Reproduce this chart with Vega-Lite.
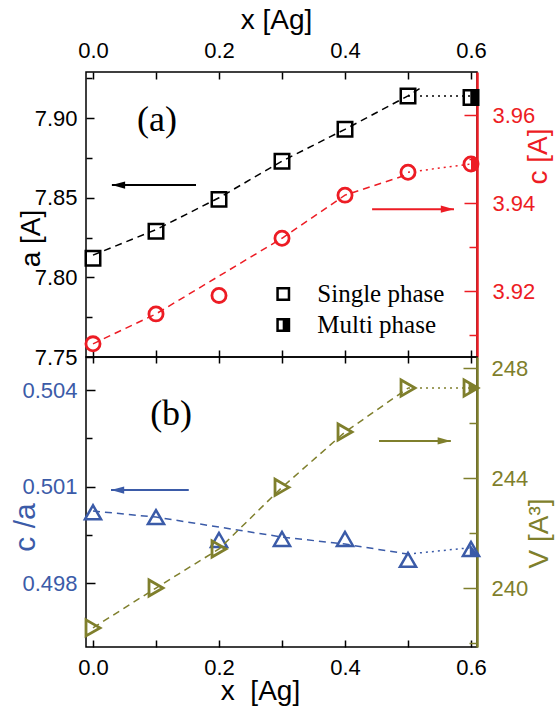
{
  "$schema": "https://vega.github.io/schema/vega-lite/v6.json",
  "padding": {"left": 9, "top": 5, "right": 5, "bottom": 0},
  "spacing": 0,
  "bounds": "flush",
  "config": {
    "view": {"stroke": "black", "strokeWidth": 1.5},
    "axis": {
      "grid": false, "domain": false,
      "labelFont": "Liberation Sans", "labelFontSize": 22, "labelColor": "black",
      "titleFont": "Liberation Sans", "titleFontSize": 28, "titleFontWeight": "normal", "titleColor": "black",
      "tickWidth": 1.5, "tickColor": "black"
    }
  },
  "datasets": {
    "pts": [
      {"q": "a", "x": 0.0, "v": 7.812, "phase": "Single"},
      {"q": "a", "x": 0.1, "v": 7.829, "phase": "Single"},
      {"q": "a", "x": 0.2, "v": 7.849, "phase": "Single"},
      {"q": "a", "x": 0.3, "v": 7.873, "phase": "Single"},
      {"q": "a", "x": 0.4, "v": 7.893, "phase": "Single"},
      {"q": "a", "x": 0.5, "v": 7.914, "phase": "Single"},
      {"q": "a", "x": 0.6, "v": 7.913, "phase": "Multi"},
      {"q": "c", "x": 0.0, "v": 3.908, "phase": "Single"},
      {"q": "c", "x": 0.1, "v": 3.9148, "phase": "Single"},
      {"q": "c", "x": 0.2, "v": 3.919, "phase": "Single"},
      {"q": "c", "x": 0.3, "v": 3.932, "phase": "Single"},
      {"q": "c", "x": 0.4, "v": 3.9418, "phase": "Single"},
      {"q": "c", "x": 0.5, "v": 3.947, "phase": "Single"},
      {"q": "c", "x": 0.6, "v": 3.9489, "phase": "Multi"},
      {"q": "ca", "x": 0.0, "v": 0.5002, "phase": "Single"},
      {"q": "ca", "x": 0.1, "v": 0.50005, "phase": "Single"},
      {"q": "ca", "x": 0.2, "v": 0.49934, "phase": "Single"},
      {"q": "ca", "x": 0.3, "v": 0.49937, "phase": "Single"},
      {"q": "ca", "x": 0.4, "v": 0.49937, "phase": "Single"},
      {"q": "ca", "x": 0.5, "v": 0.49872, "phase": "Single"},
      {"q": "ca", "x": 0.6, "v": 0.49906, "phase": "Multi"},
      {"q": "V", "x": 0.0, "v": 238.55, "phase": "Single"},
      {"q": "V", "x": 0.1, "v": 240.0, "phase": "Single"},
      {"q": "V", "x": 0.2, "v": 241.42, "phase": "Single"},
      {"q": "V", "x": 0.3, "v": 243.66, "phase": "Single"},
      {"q": "V", "x": 0.4, "v": 245.67, "phase": "Single"},
      {"q": "V", "x": 0.5, "v": 247.27, "phase": "Single"},
      {"q": "V", "x": 0.6, "v": 247.27, "phase": "Multi"}
    ],
    "lines": [
      {"q": "a", "style": "dash", "x": 0.0, "v": 7.814},
      {"q": "a", "style": "dash", "x": 0.1, "v": 7.830},
      {"q": "a", "style": "dash", "x": 0.2, "v": 7.850},
      {"q": "a", "style": "dash", "x": 0.3, "v": 7.873},
      {"q": "a", "style": "dash", "x": 0.4, "v": 7.893},
      {"q": "a", "style": "dash", "x": 0.5, "v": 7.914},
      {"q": "a", "style": "dash", "x": 0.52, "v": 7.919},
      {"q": "a", "style": "dot", "x": 0.5, "v": 7.914},
      {"q": "a", "style": "dot", "x": 0.6, "v": 7.914},
      {"q": "c", "style": "dash", "x": 0.0, "v": 3.908},
      {"q": "c", "style": "dash", "x": 0.1, "v": 3.9148},
      {"q": "c", "style": "dash", "x": 0.3, "v": 3.932},
      {"q": "c", "style": "dash", "x": 0.4, "v": 3.9418},
      {"q": "c", "style": "dash", "x": 0.5, "v": 3.9465},
      {"q": "c", "style": "dot", "x": 0.5, "v": 3.947},
      {"q": "c", "style": "dot", "x": 0.6, "v": 3.9489},
      {"q": "ca", "style": "dash", "x": 0.0, "v": 0.50024},
      {"q": "ca", "style": "dash", "x": 0.1, "v": 0.50005},
      {"q": "ca", "style": "dash", "x": 0.3, "v": 0.49943},
      {"q": "ca", "style": "dash", "x": 0.4, "v": 0.49921},
      {"q": "ca", "style": "dash", "x": 0.5, "v": 0.4989},
      {"q": "ca", "style": "dot", "x": 0.5, "v": 0.4989},
      {"q": "ca", "style": "dot", "x": 0.6, "v": 0.4991},
      {"q": "V", "style": "dash", "x": 0.0, "v": 238.55},
      {"q": "V", "style": "dash", "x": 0.1, "v": 240.0},
      {"q": "V", "style": "dash", "x": 0.2, "v": 241.42},
      {"q": "V", "style": "dash", "x": 0.3, "v": 243.66},
      {"q": "V", "style": "dash", "x": 0.4, "v": 245.67},
      {"q": "V", "style": "dash", "x": 0.5, "v": 247.27},
      {"q": "V", "style": "dot", "x": 0.5, "v": 247.27},
      {"q": "V", "style": "dot", "x": 0.6, "v": 247.27}
    ],
    "arrows": [
      {"q": "a", "x": 0.1635, "xe": 0.03, "v": 7.858},
      {"q": "c", "x": 0.443, "xe": 0.573, "v": 3.9386},
      {"q": "ca", "x": 0.152, "xe": 0.0286, "v": 0.50089},
      {"q": "V", "x": 0.454, "xe": 0.568, "v": 245.35}
    ],
    "notes": [
      {"q": "a", "kind": "panel", "label": "(a)", "x": 0.1016, "v": 7.899},
      {"q": "ca", "kind": "panel", "label": "(b)", "x": 0.124, "v": 0.50325},
      {"q": "a", "kind": "legend", "label": "Single phase", "x": 0.356, "sx": 0.302, "v": 7.7896, "phase": "Single"},
      {"q": "a", "kind": "legend", "label": "Multi phase", "x": 0.356, "sx": 0.302, "v": 7.7701, "phase": "Multi"}
    ]
  },
  "vconcat": [
    {
      "width": 391,
      "height": 285,
      "resolve": {"scale": {"y": "independent"}, "axis": {"x": "independent", "y": "independent"}},
      "layer": [
        {
          "data": {"name": "lines"},
          "transform": [{"filter": "datum.q == 'a' && datum.style == 'dash'"}],
          "mark": {"type": "line", "color": "black", "strokeWidth": 1.5, "strokeDash": [7, 5]},
          "encoding": {
            "x": {"field": "x", "type": "quantitative", "scale": {"domain": [-0.0111, 0.6095], "nice": false, "zero": false},
              "axis": {"orient": "top", "title": "x [Ag]", "values": [0, 0.1, 0.2, 0.3, 0.4, 0.5, 0.6],
                "labelExpr": "round(datum.value*10) % 2 == 0 ? format(datum.value, '.1f') : ''",
                "tickSize": -7, "labelPadding": 17, "titleX": 190, "titleY": -52, "titleBaseline": "middle", "titleAlign": "center"}},
            "y": {"field": "v", "type": "quantitative", "scale": {"domain": [7.75, 7.929], "nice": false, "zero": false},
              "axis": {"orient": "left", "title": "a [A]", "values": [7.75, 7.775, 7.8, 7.825, 7.85, 7.875, 7.9, 7.925],
                "labelExpr": "round(datum.value*1000) % 50 == 0 ? format(datum.value, '.2f') : ''",
                "tickSize": {"condition": {"test": "round(datum.value*1000) % 50 == 0", "value": -8}, "value": -6},
                "labelPadding": 17, "titleX": -55, "titleY": 166, "titleAngle": -90, "titleAlign": "center", "titleBaseline": "middle"}}
          }
        },
        {
          "data": {"name": "lines"},
          "transform": [{"filter": "datum.q == 'a' && datum.style == 'dot'"}],
          "mark": {"type": "line", "color": "black", "strokeWidth": 1.5, "strokeDash": [2, 4]},
          "encoding": {
            "x": {"field": "x", "type": "quantitative", "scale": {"domain": [-0.0111, 0.6095], "nice": false, "zero": false}, "axis": null},
            "y": {"field": "v", "type": "quantitative", "scale": {"domain": [7.75, 7.929], "nice": false, "zero": false}, "axis": null}
          }
        },
        {
          "data": {"name": "pts"},
          "transform": [{"filter": "datum.q == 'a'"}],
          "mark": {"type": "point", "shape": "square", "filled": false, "color": "black", "strokeWidth": 2.5, "size": 210, "opacity": 1},
          "encoding": {
            "x": {"field": "x", "type": "quantitative", "scale": {"domain": [-0.0111, 0.6095], "nice": false, "zero": false}, "axis": null},
            "y": {"field": "v", "type": "quantitative", "scale": {"domain": [7.75, 7.929], "nice": false, "zero": false}, "axis": null}
          }
        },
        {
          "data": {"name": "pts"},
          "transform": [{"filter": "datum.q == 'a' && datum.phase == 'Multi'"}],
          "mark": {"type": "point", "shape": "M-0.1,-1H1V1H-0.1Z", "filled": true, "color": "black", "size": 210, "opacity": 1},
          "encoding": {
            "x": {"field": "x", "type": "quantitative", "scale": {"domain": [-0.0111, 0.6095], "nice": false, "zero": false}, "axis": null},
            "y": {"field": "v", "type": "quantitative", "scale": {"domain": [7.75, 7.929], "nice": false, "zero": false}, "axis": null}
          }
        },
        {
          "data": {"name": "arrows"},
          "transform": [{"filter": "datum.q == 'a'"}],
          "mark": {"type": "rule", "color": "black", "strokeWidth": 2},
          "encoding": {
            "x": {"field": "x", "type": "quantitative", "scale": {"domain": [-0.0111, 0.6095], "nice": false, "zero": false}, "axis": null},
            "x2": {"field": "xe"},
            "y": {"field": "v", "type": "quantitative", "scale": {"domain": [7.75, 7.929], "nice": false, "zero": false}, "axis": null}
          }
        },
        {
          "data": {"name": "arrows"},
          "transform": [{"filter": "datum.q == 'a'"}],
          "mark": {"type": "point", "shape": "M0,0L2.2,-0.6L2.2,0.6Z", "filled": true, "color": "black", "size": 144, "opacity": 1},
          "encoding": {
            "x": {"field": "xe", "type": "quantitative", "scale": {"domain": [-0.0111, 0.6095], "nice": false, "zero": false}, "axis": null},
            "y": {"field": "v", "type": "quantitative", "scale": {"domain": [7.75, 7.929], "nice": false, "zero": false}, "axis": null}
          }
        },
        {
          "data": {"name": "notes"},
          "transform": [{"filter": "datum.kind == 'panel' && datum.q == 'a'"}],
          "mark": {"type": "text", "font": "Liberation Serif", "fontSize": 36, "color": "black", "align": "center", "baseline": "middle"},
          "encoding": {
            "x": {"field": "x", "type": "quantitative", "scale": {"domain": [-0.0111, 0.6095], "nice": false, "zero": false}, "axis": null},
            "y": {"field": "v", "type": "quantitative", "scale": {"domain": [7.75, 7.929], "nice": false, "zero": false}, "axis": null},
            "text": {"field": "label"}
          }
        },
        {
          "data": {"name": "notes"},
          "transform": [{"filter": "datum.kind == 'legend'"}],
          "mark": {"type": "text", "font": "Liberation Serif", "fontSize": 25, "color": "black", "align": "left", "baseline": "middle"},
          "encoding": {
            "x": {"field": "x", "type": "quantitative", "scale": {"domain": [-0.0111, 0.6095], "nice": false, "zero": false}, "axis": null},
            "y": {"field": "v", "type": "quantitative", "scale": {"domain": [7.75, 7.929], "nice": false, "zero": false}, "axis": null},
            "text": {"field": "label"}
          }
        },
        {
          "data": {"name": "notes"},
          "transform": [{"filter": "datum.kind == 'legend'"}],
          "mark": {"type": "point", "shape": "square", "filled": false, "color": "black", "strokeWidth": 2.5, "size": 130, "opacity": 1},
          "encoding": {
            "x": {"field": "sx", "type": "quantitative", "scale": {"domain": [-0.0111, 0.6095], "nice": false, "zero": false}, "axis": null},
            "y": {"field": "v", "type": "quantitative", "scale": {"domain": [7.75, 7.929], "nice": false, "zero": false}, "axis": null}
          }
        },
        {
          "data": {"name": "notes"},
          "transform": [{"filter": "datum.kind == 'legend' && datum.phase == 'Multi'"}],
          "mark": {"type": "point", "shape": "M-0.1,-1H1V1H-0.1Z", "filled": true, "color": "black", "size": 130, "opacity": 1},
          "encoding": {
            "x": {"field": "sx", "type": "quantitative", "scale": {"domain": [-0.0111, 0.6095], "nice": false, "zero": false}, "axis": null},
            "y": {"field": "v", "type": "quantitative", "scale": {"domain": [7.75, 7.929], "nice": false, "zero": false}, "axis": null}
          }
        },
        {
          "data": {"name": "lines"},
          "transform": [{"filter": "datum.q == 'c' && datum.style == 'dash'"}],
          "mark": {"type": "line", "color": "#ed1c24", "strokeWidth": 1.5, "strokeDash": [7, 5]},
          "encoding": {
            "x": {"field": "x", "type": "quantitative", "scale": {"domain": [-0.0111, 0.6095], "nice": false, "zero": false},
              "axis": {"orient": "bottom", "title": null, "labels": false, "values": [0, 0.1, 0.2, 0.3, 0.4, 0.5, 0.6], "tickSize": -7}},
            "y": {"field": "v", "type": "quantitative", "scale": {"domain": [3.905, 3.9698], "nice": false, "zero": false},
              "axis": {"orient": "right", "title": "c [A]", "values": [3.91, 3.92, 3.93, 3.94, 3.95, 3.96],
                "labelExpr": "round(datum.value*100) % 2 == 0 ? format(datum.value, '.2f') : ''",
                "tickSize": {"condition": {"test": "round(datum.value*100) % 2 == 0", "value": -13}, "value": -8},
                "labelPadding": 28, "labelColor": "#ed1c24", "tickColor": "#ed1c24", "titleColor": "#ed1c24",
                "domain": true, "domainColor": "#ed1c24", "domainWidth": 2.5,
                "titleX": 61, "titleY": 84, "titleAngle": -90, "titleAlign": "center", "titleBaseline": "middle"}}
          }
        },
        {
          "data": {"name": "lines"},
          "transform": [{"filter": "datum.q == 'c' && datum.style == 'dot'"}],
          "mark": {"type": "line", "color": "#ed1c24", "strokeWidth": 1.5, "strokeDash": [2, 4]},
          "encoding": {
            "x": {"field": "x", "type": "quantitative", "scale": {"domain": [-0.0111, 0.6095], "nice": false, "zero": false}, "axis": null},
            "y": {"field": "v", "type": "quantitative", "scale": {"domain": [3.905, 3.9698], "nice": false, "zero": false}, "axis": null}
          }
        },
        {
          "data": {"name": "pts"},
          "transform": [{"filter": "datum.q == 'c'"}],
          "mark": {"type": "point", "shape": "circle", "filled": false, "color": "#ed1c24", "strokeWidth": 2.8, "size": 200, "opacity": 1},
          "encoding": {
            "x": {"field": "x", "type": "quantitative", "scale": {"domain": [-0.0111, 0.6095], "nice": false, "zero": false}, "axis": null},
            "y": {"field": "v", "type": "quantitative", "scale": {"domain": [3.905, 3.9698], "nice": false, "zero": false}, "axis": null}
          }
        },
        {
          "data": {"name": "pts"},
          "transform": [{"filter": "datum.q == 'c' && datum.phase == 'Multi'"}],
          "mark": {"type": "point", "shape": "M0,-1A1,1,0,0,1,0,1Z", "filled": true, "color": "#ed1c24", "size": 200, "opacity": 1},
          "encoding": {
            "x": {"field": "x", "type": "quantitative", "scale": {"domain": [-0.0111, 0.6095], "nice": false, "zero": false}, "axis": null},
            "y": {"field": "v", "type": "quantitative", "scale": {"domain": [3.905, 3.9698], "nice": false, "zero": false}, "axis": null}
          }
        },
        {
          "data": {"name": "arrows"},
          "transform": [{"filter": "datum.q == 'c'"}],
          "mark": {"type": "rule", "color": "#ed1c24", "strokeWidth": 2},
          "encoding": {
            "x": {"field": "x", "type": "quantitative", "scale": {"domain": [-0.0111, 0.6095], "nice": false, "zero": false}, "axis": null},
            "x2": {"field": "xe"},
            "y": {"field": "v", "type": "quantitative", "scale": {"domain": [3.905, 3.9698], "nice": false, "zero": false}, "axis": null}
          }
        },
        {
          "data": {"name": "arrows"},
          "transform": [{"filter": "datum.q == 'c'"}],
          "mark": {"type": "point", "shape": "M0,0L-2.2,-0.6L-2.2,0.6Z", "filled": true, "color": "#ed1c24", "size": 144, "opacity": 1},
          "encoding": {
            "x": {"field": "xe", "type": "quantitative", "scale": {"domain": [-0.0111, 0.6095], "nice": false, "zero": false}, "axis": null},
            "y": {"field": "v", "type": "quantitative", "scale": {"domain": [3.905, 3.9698], "nice": false, "zero": false}, "axis": null}
          }
        }
      ]
    },
    {
      "width": 391,
      "height": 290,
      "resolve": {"scale": {"y": "independent"}, "axis": {"x": "independent", "y": "independent"}},
      "layer": [
        {
          "data": {"name": "lines"},
          "transform": [{"filter": "datum.q == 'ca' && datum.style == 'dash'"}],
          "mark": {"type": "line", "color": "#3b5ba8", "strokeWidth": 1.5, "strokeDash": [7, 5]},
          "encoding": {
            "x": {"field": "x", "type": "quantitative", "scale": {"domain": [-0.0111, 0.6095], "nice": false, "zero": false},
              "axis": {"orient": "bottom", "title": "x\u00a0 [Ag]", "values": [0, 0.1, 0.2, 0.3, 0.4, 0.5, 0.6],
                "labelExpr": "round(datum.value*10) % 2 == 0 ? format(datum.value, '.1f') : ''",
                "tickSize": -7, "labelPadding": 17, "titleX": 174, "titleY": 44, "titleBaseline": "middle", "titleAlign": "center"}},
            "y": {"field": "v", "type": "quantitative", "scale": {"domain": [0.49601, 0.50503], "nice": false, "zero": false},
              "axis": {"orient": "left", "title": "c /a", "values": [0.498, 0.4995, 0.501, 0.5025, 0.504],
                "labelExpr": "round(datum.value*10000) % 30 == 0 ? format(datum.value, '.3f') : ''",
                "tickSize": {"condition": {"test": "round(datum.value*10000) % 30 == 0", "value": -9}, "value": -6},
                "labelPadding": 18, "labelColor": "#3b5ba8", "titleColor": "#3b5ba8", "titleFontSize": 30,
                "titleX": -61, "titleY": 170, "titleAngle": -90, "titleAlign": "center", "titleBaseline": "middle"}}
          }
        },
        {
          "data": {"name": "lines"},
          "transform": [{"filter": "datum.q == 'ca' && datum.style == 'dot'"}],
          "mark": {"type": "line", "color": "#3b5ba8", "strokeWidth": 1.5, "strokeDash": [2, 4]},
          "encoding": {
            "x": {"field": "x", "type": "quantitative", "scale": {"domain": [-0.0111, 0.6095], "nice": false, "zero": false}, "axis": null},
            "y": {"field": "v", "type": "quantitative", "scale": {"domain": [0.49601, 0.50503], "nice": false, "zero": false}, "axis": null}
          }
        },
        {
          "data": {"name": "pts"},
          "transform": [{"filter": "datum.q == 'ca'"}],
          "mark": {"type": "point", "shape": "triangle-up", "filled": false, "color": "#3b5ba8", "strokeWidth": 2.5, "size": 260, "opacity": 1},
          "encoding": {
            "x": {"field": "x", "type": "quantitative", "scale": {"domain": [-0.0111, 0.6095], "nice": false, "zero": false}, "axis": null},
            "y": {"field": "v", "type": "quantitative", "scale": {"domain": [0.49601, 0.50503], "nice": false, "zero": false}, "axis": null}
          }
        },
        {
          "data": {"name": "pts"},
          "transform": [{"filter": "datum.q == 'ca' && datum.phase == 'Multi'"}],
          "mark": {"type": "point", "shape": "M-0.15,-0.6L1,0.866L-0.15,0.866Z", "filled": true, "color": "#3b5ba8", "size": 260, "opacity": 1},
          "encoding": {
            "x": {"field": "x", "type": "quantitative", "scale": {"domain": [-0.0111, 0.6095], "nice": false, "zero": false}, "axis": null},
            "y": {"field": "v", "type": "quantitative", "scale": {"domain": [0.49601, 0.50503], "nice": false, "zero": false}, "axis": null}
          }
        },
        {
          "data": {"name": "arrows"},
          "transform": [{"filter": "datum.q == 'ca'"}],
          "mark": {"type": "rule", "color": "#3b5ba8", "strokeWidth": 2},
          "encoding": {
            "x": {"field": "x", "type": "quantitative", "scale": {"domain": [-0.0111, 0.6095], "nice": false, "zero": false}, "axis": null},
            "x2": {"field": "xe"},
            "y": {"field": "v", "type": "quantitative", "scale": {"domain": [0.49601, 0.50503], "nice": false, "zero": false}, "axis": null}
          }
        },
        {
          "data": {"name": "arrows"},
          "transform": [{"filter": "datum.q == 'ca'"}],
          "mark": {"type": "point", "shape": "M0,0L2.2,-0.6L2.2,0.6Z", "filled": true, "color": "#3b5ba8", "size": 144, "opacity": 1},
          "encoding": {
            "x": {"field": "xe", "type": "quantitative", "scale": {"domain": [-0.0111, 0.6095], "nice": false, "zero": false}, "axis": null},
            "y": {"field": "v", "type": "quantitative", "scale": {"domain": [0.49601, 0.50503], "nice": false, "zero": false}, "axis": null}
          }
        },
        {
          "data": {"name": "notes"},
          "transform": [{"filter": "datum.kind == 'panel' && datum.q == 'ca'"}],
          "mark": {"type": "text", "font": "Liberation Serif", "fontSize": 36, "color": "black", "align": "center", "baseline": "middle"},
          "encoding": {
            "x": {"field": "x", "type": "quantitative", "scale": {"domain": [-0.0111, 0.6095], "nice": false, "zero": false}, "axis": null},
            "y": {"field": "v", "type": "quantitative", "scale": {"domain": [0.49601, 0.50503], "nice": false, "zero": false}, "axis": null},
            "text": {"field": "label"}
          }
        },
        {
          "data": {"name": "lines"},
          "transform": [{"filter": "datum.q == 'V' && datum.style == 'dash'"}],
          "mark": {"type": "line", "color": "#7f7f2c", "strokeWidth": 1.5, "strokeDash": [7, 5]},
          "encoding": {
            "x": {"field": "x", "type": "quantitative", "scale": {"domain": [-0.0111, 0.6095], "nice": false, "zero": false},
              "axis": {"orient": "top", "title": null, "labels": false, "values": [0, 0.1, 0.2, 0.3, 0.4, 0.5, 0.6], "tickSize": -6}},
            "y": {"field": "v", "type": "quantitative", "scale": {"domain": [237.855, 248.4], "nice": false, "zero": false},
              "axis": {"orient": "right", "title": "V [A\u00b3]", "values": [238, 240, 242, 244, 246, 248],
                "labelExpr": "datum.value % 4 == 0 ? format(datum.value, 'd') : ''",
                "tickSize": {"condition": {"test": "datum.value % 4 == 0", "value": -14}, "value": -8},
                "labelPadding": 28, "labelColor": "#7f7f2c", "tickColor": "#7f7f2c", "titleColor": "#7f7f2c",
                "domain": true, "domainColor": "#7f7f2c", "domainWidth": 2.5,
                "titleX": 62, "titleY": 176, "titleAngle": -90, "titleAlign": "center", "titleBaseline": "middle"}}
          }
        },
        {
          "data": {"name": "lines"},
          "transform": [{"filter": "datum.q == 'V' && datum.style == 'dot'"}],
          "mark": {"type": "line", "color": "#7f7f2c", "strokeWidth": 1.5, "strokeDash": [2, 4]},
          "encoding": {
            "x": {"field": "x", "type": "quantitative", "scale": {"domain": [-0.0111, 0.6095], "nice": false, "zero": false}, "axis": null},
            "y": {"field": "v", "type": "quantitative", "scale": {"domain": [237.855, 248.4], "nice": false, "zero": false}, "axis": null}
          }
        },
        {
          "data": {"name": "pts"},
          "transform": [{"filter": "datum.q == 'V'"}],
          "mark": {"type": "point", "shape": "triangle-right", "filled": false, "color": "#7f7f2c", "strokeWidth": 2.8, "size": 260, "opacity": 1},
          "encoding": {
            "x": {"field": "x", "type": "quantitative", "scale": {"domain": [-0.0111, 0.6095], "nice": false, "zero": false}, "axis": null},
            "y": {"field": "v", "type": "quantitative", "scale": {"domain": [237.855, 248.4], "nice": false, "zero": false}, "axis": null}
          }
        },
        {
          "data": {"name": "pts"},
          "transform": [{"filter": "datum.q == 'V' && datum.phase == 'Multi'"}],
          "mark": {"type": "point", "shape": "M-0.3,-0.673L0.866,0L-0.3,0.673Z", "filled": true, "color": "#7f7f2c", "size": 260, "opacity": 1},
          "encoding": {
            "x": {"field": "x", "type": "quantitative", "scale": {"domain": [-0.0111, 0.6095], "nice": false, "zero": false}, "axis": null},
            "y": {"field": "v", "type": "quantitative", "scale": {"domain": [237.855, 248.4], "nice": false, "zero": false}, "axis": null}
          }
        },
        {
          "data": {"name": "arrows"},
          "transform": [{"filter": "datum.q == 'V'"}],
          "mark": {"type": "rule", "color": "#7f7f2c", "strokeWidth": 2},
          "encoding": {
            "x": {"field": "x", "type": "quantitative", "scale": {"domain": [-0.0111, 0.6095], "nice": false, "zero": false}, "axis": null},
            "x2": {"field": "xe"},
            "y": {"field": "v", "type": "quantitative", "scale": {"domain": [237.855, 248.4], "nice": false, "zero": false}, "axis": null}
          }
        },
        {
          "data": {"name": "arrows"},
          "transform": [{"filter": "datum.q == 'V'"}],
          "mark": {"type": "point", "shape": "M0,0L-2.2,-0.6L-2.2,0.6Z", "filled": true, "color": "#7f7f2c", "size": 144, "opacity": 1},
          "encoding": {
            "x": {"field": "xe", "type": "quantitative", "scale": {"domain": [-0.0111, 0.6095], "nice": false, "zero": false}, "axis": null},
            "y": {"field": "v", "type": "quantitative", "scale": {"domain": [237.855, 248.4], "nice": false, "zero": false}, "axis": null}
          }
        }
      ]
    }
  ]
}
